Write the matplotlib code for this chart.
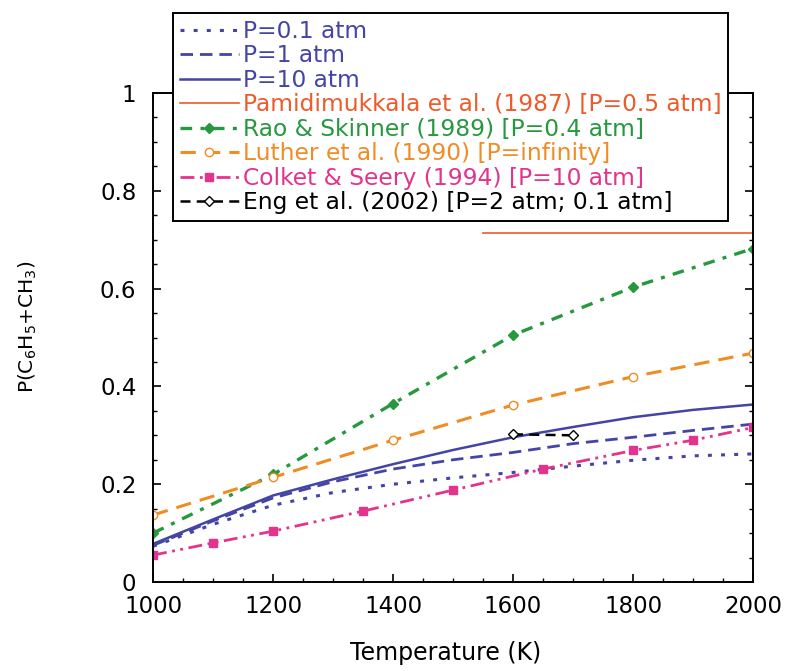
import matplotlib
matplotlib.use('Agg')
import matplotlib.pyplot as plt
from matplotlib.ticker import MultipleLocator

plt.rcParams['font.family'] = ['DejaVu Sans']

# ----------------------------------------------------------------------
# data
# ----------------------------------------------------------------------
T_calc = [1000, 1100, 1200, 1300, 1400, 1500, 1600, 1700, 1800, 1900, 2000]
p_01 = [0.073, 0.118, 0.157, 0.183, 0.200, 0.213, 0.224, 0.237, 0.249, 0.258, 0.262]
p_1 = [0.075, 0.125, 0.172, 0.205, 0.231, 0.250, 0.265, 0.283, 0.296, 0.310, 0.323]
p_10 = [0.078, 0.128, 0.177, 0.210, 0.241, 0.270, 0.296, 0.317, 0.337, 0.352, 0.363]

T_pam = [1550, 2000]
pam = [0.714, 0.714]

T_rao = [1000, 1200, 1400, 1600, 1800, 2000]
rao = [0.100, 0.220, 0.365, 0.505, 0.603, 0.682]

T_luther = [1000, 1200, 1400, 1600, 1800, 2000]
luther = [0.137, 0.214, 0.290, 0.362, 0.420, 0.468]

T_colket = [1000, 1100, 1200, 1350, 1500, 1650, 1800, 1900, 2000]
colket = [0.055, 0.080, 0.104, 0.145, 0.188, 0.231, 0.269, 0.290, 0.316]

T_eng = [1600, 1700]
eng = [0.302, 0.300]

y_ticks = [0, 0.2, 0.4, 0.6, 0.8, 1.0]
y_ticklabels = ['0', '0.2', '0.4', '0.6', '0.8', '1']

labels = ['P=0.1 atm', 'P=1 atm', 'P=10 atm',
          'Pamidimukkala et al. (1987) [P=0.5 atm]',
          'Rao & Skinner (1989) [P=0.4 atm]',
          'Luther et al. (1990) [P=infinity]',
          'Colket & Seery (1994) [P=10 atm]',
          'Eng et al. (2002) [P=2 atm; 0.1 atm]']

blue = '#4444a6'
red_orange = '#ee5a2a'
green = '#26983e'
orange = '#f08c24'
magenta = '#e2348c'

# ----------------------------------------------------------------------
# plot
# ----------------------------------------------------------------------
fig = plt.figure(figsize=(7.85, 6.71), dpi=100)
ax = fig.add_axes([0.195, 0.1326, 0.7643, 0.7288])

ax.plot(T_calc, p_01, color=blue, ls=(0, (1.3, 3)), lw=2.2, label=labels[0])
ax.plot(T_calc, p_1, color=blue, ls=(0, (4.5, 2.5)), lw=2.0, label=labels[1])
ax.plot(T_calc, p_10, color=blue, ls='-', lw=1.8, label=labels[2])
ax.plot(T_pam, pam, color=red_orange, ls='-', lw=1.2, label=labels[3])
ax.plot(T_rao, rao, color=green, ls=(0, (3.5, 2.5, 1.2, 2.5)), lw=2.4,
        marker='D', ms=5, mfc=green, mec=green, label=labels[4])
ax.plot(T_luther, luther, color=orange, ls=(0, (5, 3)), lw=2.2,
        marker='o', ms=6, mfc='white', mec=orange, label=labels[5])
ax.plot(T_colket, colket, color=magenta, ls=(0, (5, 2, 1, 2, 1, 2)), lw=2.0,
        marker='s', ms=6, mfc=magenta, mec=magenta, label=labels[6])
ax.plot(T_eng, eng, color='black', ls=(0, (4, 2.5)), lw=1.8,
        marker='D', ms=5, mfc='white', mec='black', label=labels[7])

ax.set_xlim(1000, 2000)
ax.set_ylim(0, 1)
ax.xaxis.set_major_locator(MultipleLocator(200))
ax.xaxis.set_minor_locator(MultipleLocator(50))
ax.yaxis.set_minor_locator(MultipleLocator(0.05))
ax.set_yticks(y_ticks)
ax.set_yticklabels(y_ticklabels)
ax.tick_params(which='both', direction='in', top=True, right=True, labelsize=16.5)
ax.tick_params(axis='x', which='major', pad=9.5)
ax.tick_params(axis='y', which='major', pad=12)
ax.tick_params(which='major', length=6, width=1.2)
ax.tick_params(which='minor', length=3, width=1.0)
for s in ax.spines.values():
    s.set_linewidth(1.4)

ax.set_xlabel('Temperature (K)', fontsize=17)
ax.xaxis.set_label_coords(0.487, -0.12)
ax.set_ylabel('P(C$_6$H$_5$+CH$_3$)', fontsize=14.5)
ax.yaxis.set_label_coords(-0.19, 0.523)

leg = fig.legend(loc='upper left', bbox_to_anchor=(0.22, 0.981), fontsize=16.8,
                 handlelength=2.55, handletextpad=0.15, labelspacing=0.065,
                 borderpad=0.3, borderaxespad=0, fancybox=False, framealpha=1,
                 edgecolor='black')
leg.get_frame().set_linewidth(1.4)
for txt, line in zip(leg.get_texts(), leg.get_lines()):
    txt.set_color(line.get_color())

plt.savefig('out.png', dpi=100)
